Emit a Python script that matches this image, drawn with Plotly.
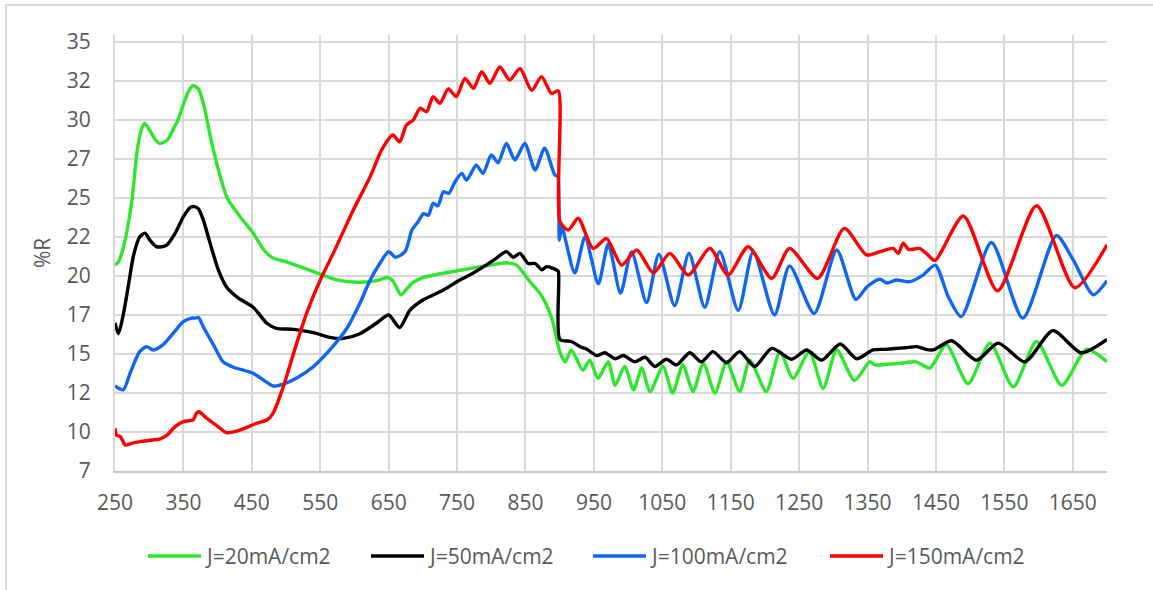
import plotly.graph_objects as go

# Reflectance spectra (%R vs wavelength, nm) for four current densities
series_names = ["J=20mA/cm2", "J=50mA/cm2", "J=100mA/cm2", "J=150mA/cm2"]
series_colors = ["#2fe62f", "#000000", "#0f66f5", "#ff0000"]

wl_j20 = [250, 255, 262, 268, 275, 282, 288, 293, 300, 308, 315, 326, 335, 342, 350, 357, 364, 372,
          380, 390, 400, 414, 433, 452, 467, 481, 501, 520, 539, 557, 574, 604, 633, 648, 656, 668,
          677, 686, 700, 720, 759, 798, 822, 837, 852, 861, 871, 879, 889, 897, 900, 908, 917, 934,
          944, 956, 971, 981, 995, 1008, 1020, 1032, 1051, 1065, 1080, 1095, 1110, 1127, 1144, 1163,
          1178, 1202, 1222, 1241, 1265, 1285, 1305, 1331, 1353, 1361, 1380, 1397, 1421, 1441, 1465,
          1497, 1529, 1563, 1597, 1634, 1670, 1700]
r_j20 = [20.7, 20.9, 21.8, 23.0, 24.9, 27.9, 29.3, 29.8, 29.4, 28.8, 28.5, 28.7, 29.4, 30.0, 31.0, 31.8,
         32.2, 32.0, 30.9, 28.8, 27.0, 25.0, 23.8, 22.75, 21.7, 21.15, 20.9, 20.6, 20.3, 20.0, 19.75,
         19.6, 19.7, 19.9, 19.7, 18.8, 19.2, 19.6, 19.9, 20.1, 20.4, 20.7, 20.85, 20.7, 19.9, 19.4,
         18.9, 18.3, 17.2, 15.7, 15.15, 14.5, 15.26, 13.97, 14.6, 13.44, 14.5, 13.0, 14.2, 12.7, 14.1,
         12.6, 14.2, 12.5, 14.3, 12.6, 14.4, 12.5, 14.5, 12.6, 14.6, 12.6, 15.15, 13.44, 15.15, 12.8,
         15.26, 13.3, 14.5, 14.3, 14.35, 14.4, 14.5, 14.1, 15.6, 13.1, 15.7, 12.9, 15.8, 13.0, 15.3,
         14.5]

wl_j50 = [250, 255, 262, 270, 277, 286, 294, 301, 310, 316, 326, 338, 350, 360, 366, 372, 379, 389,
          401, 413, 430, 452, 472, 486, 511, 540, 564, 584, 608, 632, 650, 666, 681, 700, 730, 754,
          774, 803, 822, 832, 842, 854, 864, 874, 881, 895, 898, 900.3, 917, 930, 940, 954, 966, 981,
          993, 1010, 1025, 1039, 1056, 1071, 1090, 1107, 1124, 1144, 1163, 1185, 1210, 1239, 1261,
          1283, 1310, 1334, 1358, 1375, 1390, 1405, 1422, 1435, 1446, 1473, 1509, 1541, 1580, 1621,
          1662, 1700]
r_j50 = [17.0, 16.3, 17.5, 19.5, 21.3, 22.5, 22.75, 22.3, 21.9, 21.86, 22.0, 22.75, 23.8, 24.4, 24.45,
         24.3, 23.6, 22.1, 20.4, 19.3, 18.6, 18.0, 16.97, 16.65, 16.58, 16.37, 16.07, 16.0, 16.3, 16.97,
         17.5, 16.7, 17.8, 18.46, 19.1, 19.74, 20.2, 21.0, 21.56, 21.2, 21.45, 20.8, 20.8, 20.4, 20.6,
         20.4, 20.3, 15.94, 15.8, 15.47, 15.3, 14.9, 15.08, 14.7, 14.9, 14.5, 14.79, 14.2, 14.66, 14.3,
         15.08, 14.5, 15.15, 14.44, 15.15, 14.2, 15.36, 14.66, 15.26, 14.6, 15.64, 14.7, 15.26, 15.3,
         15.35, 15.4, 15.47, 15.3, 15.26, 15.85, 14.6, 15.7, 14.5, 16.5, 15.08, 15.94]

wl_j100 = [250, 262, 272, 286, 296, 306, 320, 335, 350, 362, 368, 372, 379, 394, 408, 423, 452, 467,
           481, 496, 515, 540, 564, 589, 608, 623, 637, 650, 660, 674, 684, 693, 701, 708, 715, 722,
           730, 738, 747, 757, 764, 778, 788, 800, 810, 822, 834.5, 849, 864, 878, 893, 897, 899.5,
           903, 922, 937, 956.5, 971, 989, 1005, 1027, 1045, 1068, 1089, 1112, 1134, 1161, 1183, 1214,
           1236, 1272, 1305, 1333, 1349, 1368, 1378, 1392, 1412, 1431, 1449, 1468, 1487, 1531, 1577,
           1626, 1651, 1680, 1700]
r_j100 = [12.95, 12.7, 13.76, 15.15, 15.47, 15.26, 15.58, 16.33, 17.07, 17.3, 17.3, 17.35, 16.75, 15.58,
          14.5, 14.15, 13.76, 13.33, 12.95, 13.07, 13.44, 14.19, 15.26, 16.65, 18.25, 19.74, 20.8, 21.56,
          21.2, 21.56, 22.95, 23.48, 24.0, 23.9, 24.66, 24.5, 25.4, 25.3, 26.04, 26.58, 26.15, 27.1,
          26.58, 27.76, 27.26, 28.5, 27.44, 28.5, 26.8, 28.19, 26.47, 26.4, 22.3, 23.16, 20.2, 22.5,
          19.5, 22.05, 18.9, 21.55, 18.3, 21.4, 18.1, 21.45, 18.0, 21.56, 17.8, 21.56, 17.5, 20.65,
          17.6, 21.67, 18.5, 19.3, 19.8, 19.55, 19.74, 19.64, 20.06, 20.7, 18.67, 17.4, 22.15, 17.3,
          22.6, 21.0, 18.8, 19.7]

wl_j150 = [250, 252, 258, 265, 274, 287, 304, 315, 326, 338, 350, 364, 369, 373, 384, 399, 413, 433,
           457, 472, 481, 496, 511, 530, 550, 569, 598, 623, 640, 656, 666, 676, 686, 696, 705.5, 715,
           725, 737, 749, 761.5, 774, 786, 798, 812.6, 827, 842, 859, 873.5, 888, 898, 900.3, 912.5,
           927, 949, 968.6, 990.5, 1012.5, 1037, 1061, 1088, 1119.6, 1146, 1175.5, 1210, 1236, 1277,
           1316, 1348.5, 1368, 1387.5, 1395, 1402, 1410, 1426, 1437, 1448.6, 1490, 1540, 1597, 1653,
           1700]
r_j150 = [10.24, 9.8, 9.7, 9.17, 9.27, 9.38, 9.49, 9.55, 9.8, 10.34, 10.66, 10.77, 11.2, 11.3, 10.88,
          10.4, 9.96, 10.13, 10.56, 10.77, 11.2, 12.9, 15.04, 17.6, 19.74, 21.45, 24.2, 26.37, 28.1,
          29.04, 28.6, 29.68, 30.0, 30.76, 30.53, 31.5, 31.07, 32.0, 31.5, 32.67, 32.03, 33.1, 32.35,
          33.4, 32.56, 33.3, 31.9, 32.78, 31.7, 31.87, 23.5, 22.95, 23.7, 21.77, 22.4, 20.7, 21.67,
          20.2, 21.45, 20.06, 21.77, 20.06, 21.88, 19.85, 21.77, 19.85, 23.05, 21.35, 21.56, 21.77,
          21.45, 22.1, 21.7, 21.77, 21.4, 21.0, 23.85, 19.05, 24.5, 19.25, 22.0]

x_tick_vals = list(range(250, 1651, 100))
y_tick_vals = [7.5, 10, 12.5, 15, 17.5, 20, 22.5, 25, 27.5, 30, 32.5, 35]
y_tick_text = ["7", "10", "12", "15", "17", "20", "22", "25", "27", "30", "32", "35"]

all_x = [wl_j20, wl_j50, wl_j100, wl_j150]
all_y = [r_j20, r_j50, r_j100, r_j150]

W, H = 1153, 590
ML, MR, MT, MB = 115, 46, 35, 119
PW, PH = W - ML - MR, H - MT - MB


def px_x(px):
    return (px - ML) / PW


def px_y(py):
    return (H - MB - py) / PH


text_color = "#595959"
font_family = "Open Sans, Noto Sans, sans-serif"

fig = go.Figure()
for xs, ys, name, color in zip(all_x, all_y, series_names, series_colors):
    fig.add_trace(go.Scatter(
        x=xs, y=ys, name=name, mode="lines",
        line=dict(color=color, width=3.4, shape="spline", smoothing=0.7),
        showlegend=False,
    ))

# Legend row drawn below the plot: key line plus label
legend_starts = [148, 371, 593, 830]
legend_y = 556
shapes = []
annotations = []
for start, name, color in zip(legend_starts, series_names, series_colors):
    shapes.append(dict(type="line", xref="paper", yref="paper",
                       x0=px_x(start), x1=px_x(start + 53), y0=px_y(legend_y), y1=px_y(legend_y),
                       line=dict(color=color, width=3.5)))
    annotations.append(dict(xref="paper", yref="paper", x=px_x(start + 55), y=px_y(legend_y),
                            text=name, showarrow=False, xanchor="left", yanchor="middle",
                            font=dict(size=21, color=text_color, family=font_family)))

# Outer chart border
shapes.append(dict(type="rect", xref="paper", yref="paper", layer="below",
                   x0=px_x(6), x1=px_x(1165), y0=px_y(600), y1=px_y(5),
                   line=dict(color="#d9d9d9", width=2), fillcolor="rgba(0,0,0,0)"))

annotations.append(dict(xref="paper", yref="paper", x=px_x(42), y=0.5, text="%R",
                        textangle=-90, showarrow=False, xanchor="center", yanchor="middle",
                        font=dict(size=21, color=text_color, family=font_family)))

fig.update_layout(
    width=W, height=H,
    margin=dict(l=ML, r=MR, t=MT, b=MB, autoexpand=False),
    paper_bgcolor="white", plot_bgcolor="white",
    shapes=shapes, annotations=annotations,
    font=dict(family=font_family, size=21, color=text_color),
)
fig.update_xaxes(
    range=[250, 1700], tickvals=x_tick_vals, showgrid=True, gridcolor="#d9d9d9", gridwidth=2,
    showline=True, linecolor="#c8c8c8", linewidth=2, zeroline=False, ticks="",
    ticklabelstandoff=12, tickfont=dict(size=21, color=text_color),
)
fig.update_yaxes(
    range=[7.5, 35.45], tickvals=y_tick_vals, ticktext=y_tick_text, showgrid=True,
    gridcolor="#d9d9d9", gridwidth=2, showline=True, linecolor="#d9d9d9", linewidth=2,
    zeroline=False, ticks="", ticklabelstandoff=18, tickfont=dict(size=21, color=text_color),
)

fig.write_html("out.html")
